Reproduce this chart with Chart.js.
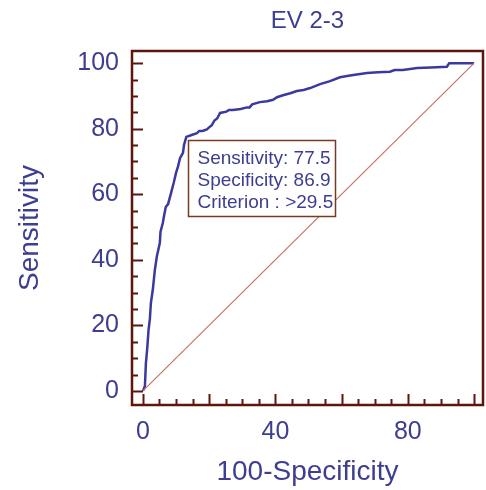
<!DOCTYPE html>
<html>
<head>
<meta charset="utf-8">
<title>EV 2-3</title>
<script src="https://cdn.jsdelivr.net/npm/chart.js@4.4.1/dist/chart.umd.min.js"></script>
<style>
  html, body { margin: 0; padding: 0; background: #ffffff; }
  #wrap { width: 486px; height: 490px; }
</style>
</head>
<body>
<div id="wrap"><canvas id="rocChart" width="486" height="490"></canvas></div>
<script>
// ROC curve EV 2-3
var chartTitle = 'EV 2-3';
var xTitle = '100-Specificity';
var yTitle = 'Sensitivity';

var fprValues = [0, 0.6, 0.9, 1.3, 1.7, 2.1, 2.4, 3.0, 3.6, 4.2, 5.1, 5.3, 6.0, 6.4, 6.9, 7.6, 8.5, 9.3, 10.0, 10.6, 11.2, 12.1, 12.4, 13.1,
  14.5, 16.3, 17.0, 18.0, 19.3, 20.0, 20.8, 21.6, 22.4, 23.3, 25.2, 26.0, 27.2, 29.5, 31.4, 32.2, 33.0, 35.3, 37.5, 39.3, 40.5, 42.3, 44.5, 46.5, 48.5, 50.5,
  53.5, 56.5, 59.5, 63.0, 67.7, 71.0, 74.6, 76.0, 78.5, 82.8, 87.0, 91.8, 92.5, 93.7, 100];
var tprValues = [0, 1.5, 8.5, 13.0, 18.6, 22.0, 26.8, 31.0, 36.9, 41.0, 45.1, 48.5, 51.2, 53.5, 56.1, 57.0, 60.4, 63.5, 66.5, 68.5, 71.0, 72.6, 75.0, 77.5,
  78.0, 78.6, 79.3, 79.3, 79.8, 80.4, 81.1, 82.5, 83.1, 84.8, 85.2, 85.7, 85.7, 86.0, 86.5, 86.5, 87.4, 88.1, 88.4, 88.8, 89.6, 90.2, 90.8, 91.5, 91.8, 92.4,
  93.6, 94.5, 95.7, 96.3, 97.0, 97.2, 97.4, 97.9, 97.9, 98.5, 98.7, 98.9, 100, 100, 100];
var diagonalX = [0, 100];
var diagonalY = [0, 100];

var xTickLabels = [0, 40, 80];
var yTickLabels = [0, 20, 40, 60, 80, 100];
var majorMarks = [0, 20, 40, 60, 80, 100];
var minorMarks = [5, 10, 15, 25, 30, 35, 45, 50, 55, 65, 70, 75, 85, 90, 95];

var criterionPoint = [13.1, 77.5];
var criterionLines = ['Sensitivity: 77.5', 'Specificity: 86.9', 'Criterion : >29.5'];

(function() {
    'use strict';

    var textBlue = '#3d3d91';
    var curveBlue = '#3a3a9e';
    var frameBrown = '#5c160c';
    var diagColor = '#c47462';

    function toPoints(xs, ys) {
        return xs.map(function(x, i) { return { x: x, y: ys[i] }; });
    }

    var rocDecor = {
        id: 'rocDecor',
        afterDraw: function(chart) {
            var ctx = chart.ctx;
            var a = chart.chartArea;
            var sx = chart.scales.x;
            var sy = chart.scales.y;
            ctx.save();

            // frame
            ctx.strokeStyle = frameBrown;
            ctx.lineWidth = 2.5;
            ctx.strokeRect(a.left, a.top, a.right - a.left, a.bottom - a.top);

            // inward tick marks
            ctx.lineWidth = 2;
            function mark(v, len) {
                var px = Math.round(sx.getPixelForValue(v)) + 0.5;
                ctx.beginPath(); ctx.moveTo(px, a.bottom); ctx.lineTo(px, a.bottom - len); ctx.stroke();
                var py = Math.round(sy.getPixelForValue(v)) + 0.5;
                ctx.beginPath(); ctx.moveTo(a.left, py); ctx.lineTo(a.left + len, py); ctx.stroke();
            }
            majorMarks.forEach(function(v) { mark(v, 11); });
            minorMarks.forEach(function(v) { mark(v, 6); });

            // title over the plot area
            ctx.fillStyle = textBlue;
            ctx.font = '24px Arial, "Liberation Sans", sans-serif';
            ctx.textAlign = 'center';
            ctx.textBaseline = 'middle';
            ctx.fillText(chartTitle, (a.left + a.right) / 2, 21);

            // criterion box
            var bx = Math.round(sx.getPixelForValue(criterionPoint[0])) + 2.5;
            var by = Math.round(sy.getPixelForValue(criterionPoint[1])) + 3.5;
            ctx.fillStyle = '#ffffff';
            ctx.fillRect(bx, by, 147, 76);
            ctx.strokeStyle = '#7a3a22';
            ctx.lineWidth = 1.5;
            ctx.strokeRect(bx, by, 147, 76);
            ctx.fillStyle = textBlue;
            ctx.font = '19px Arial, "Liberation Sans", sans-serif';
            ctx.textAlign = 'left';
            ctx.textBaseline = 'alphabetic';
            criterionLines.forEach(function(t, i) {
                ctx.fillText(t, bx + 9, by + 23 + i * 22);
            });
            ctx.restore();
        }
    };

    function initChart() {
        var el = document.getElementById('rocChart');
        if (!el || typeof Chart === 'undefined') {
            console.error('Chart.js non charg\u00e9');
            return;
        }

        new Chart(el, {
            type: 'scatter',
            data: {
                datasets: [{
                    label: 'Reference',
                    data: toPoints(diagonalX, diagonalY),
                    showLine: true,
                    borderColor: diagColor,
                    borderWidth: 1.2,
                    pointRadius: 0
                }, {
                    label: chartTitle,
                    data: toPoints(fprValues, tprValues),
                    showLine: true,
                    borderColor: curveBlue,
                    borderWidth: 2.5,
                    pointRadius: 0,
                    tension: 0
                }]
            },
            options: {
                responsive: false,
                animation: false,
                layout: { padding: { top: 51, right: 3, left: 0, bottom: 0 } },
                plugins: {
                    legend: { display: false },
                    tooltip: { enabled: false },
                    title: { display: false }
                },
                scales: {
                    x: {
                        type: 'linear',
                        min: -3.3,
                        max: 102.7,
                        afterBuildTicks: function(scale) {
                            scale.ticks = xTickLabels.map(function(v) { return { value: v }; });
                        },
                        afterFit: function(scale) { scale.height = 85; },
                        grid: { display: false, drawTicks: false },
                        border: { display: false },
                        ticks: {
                            color: textBlue,
                            padding: 12,
                            maxRotation: 0,
                            font: { family: 'Arial, "Liberation Sans", sans-serif', size: 25 }
                        },
                        title: {
                            display: true,
                            text: xTitle,
                            color: textBlue,
                            padding: { top: 0, bottom: 1 },
                            font: { family: 'Arial, "Liberation Sans", sans-serif', size: 28 }
                        }
                    },
                    y: {
                        type: 'linear',
                        min: -4.3,
                        max: 103.7,
                        afterBuildTicks: function(scale) {
                            scale.ticks = yTickLabels.map(function(v) { return { value: v }; });
                        },
                        afterFit: function(scale) { scale.width = 132; },
                        grid: { display: false, drawTicks: false },
                        border: { display: false },
                        ticks: {
                            color: textBlue,
                            padding: 13,
                            font: { family: 'Arial, "Liberation Sans", sans-serif', size: 25 }
                        },
                        title: {
                            display: true,
                            text: yTitle,
                            color: textBlue,
                            padding: { top: 13, bottom: 0 },
                            font: { family: 'Arial, "Liberation Sans", sans-serif', size: 28 }
                        }
                    }
                }
            },
            plugins: [rocDecor]
        });
    }

    if (document.readyState === 'loading') {
        document.addEventListener('DOMContentLoaded', initChart);
    } else {
        initChart();
    }
})();
</script>
</body>
</html>
